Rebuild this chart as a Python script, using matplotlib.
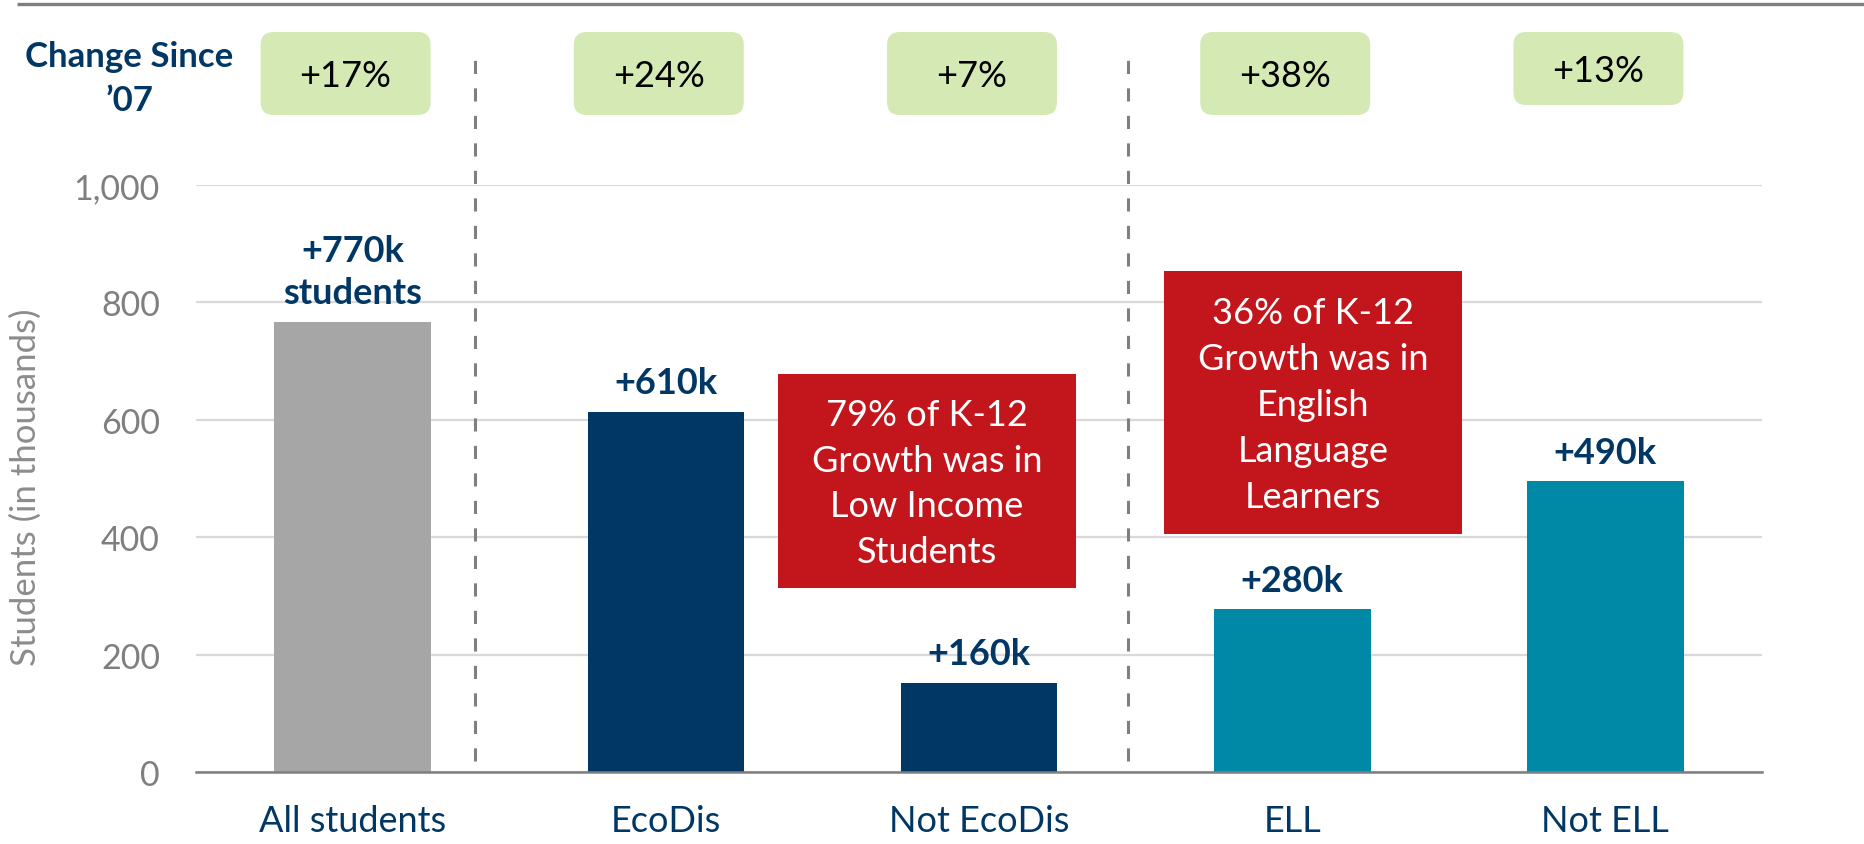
import matplotlib
matplotlib.use("Agg")
import matplotlib.pyplot as plt
from matplotlib.patches import FancyBboxPatch, Rectangle
import matplotlib.transforms as mtrans

plt.rcParams['font.family'] = ['Lato', 'DejaVu Sans']

# chart values
categories = ["All students", "EcoDis", "Not EcoDis", "ELL", "Not ELL"]
growth_k = [767, 614, 152, 277, 495]
bar_labels = ["+770k\nstudents", "+610k", "+160k", "+280k", "+490k"]
pct_change = ["+17%", "+24%", "+7%", "+38%", "+13%"]
y_ticks = [0, 200, 400, 600, 800, 1000]

NAVY = "#003764"
TEAL = "#0089A6"
GREY_BAR = "#A6A6A6"
RED = "#C3161C"
GREEN = "#D5E9B4"
AXIS_GREY = "#7F7F7F"
bar_colors = [GREY_BAR, NAVY, NAVY, TEAL, TEAL]

W, H = 1864, 845
fig = plt.figure(figsize=(W / 100, H / 100), dpi=100)

# main axes placed by pixel box (left, top, right, bottom)
left, top, right, bottom = 196, 186, 1762, 773
ax = fig.add_axes([left / W, 1 - bottom / H, (right - left) / W, (bottom - top) / H])

x = list(range(len(categories)))
ax.bar(x, growth_k, width=0.5, color=bar_colors, zorder=3)
ax.set_xlim(-0.5, len(categories) - 0.5)
ax.set_ylim(0, 1000)
ax.set_yticks(y_ticks)
ax.set_yticklabels([f"{v:,}" for v in y_ticks])
ax.set_xticks(x)
ax.set_xticklabels(categories)
ax.tick_params(axis='y', length=0, pad=26, labelsize=24.5, labelcolor=AXIS_GREY)
ax.tick_params(axis='x', length=0, pad=23, labelsize=26, labelcolor=NAVY)
ax.yaxis.grid(True, color="#D9D9D9", linewidth=1.6, zorder=0)
ax.set_axisbelow(True)
for side in ["top", "right", "left"]:
    ax.spines[side].set_visible(False)
ax.spines["bottom"].set_color(AXIS_GREY)
ax.spines["bottom"].set_linewidth(1.8)
ax.spines["bottom"].set_zorder(4)

# value labels above bars
for xi, val, lab in zip(x, growth_k, bar_labels):
    ax.annotate(lab, (xi, val), xytext=(0, 9), textcoords="offset points",
                ha="center", va="bottom", fontsize=26, fontweight="bold",
                color=NAVY, linespacing=1.35)

# dashed group separators
sep_tr = mtrans.blended_transform_factory(ax.transData, ax.transAxes)
for sx in [0.39, 2.475]:
    ax.plot([sx, sx], [0.019, 1.225], transform=sep_tr, clip_on=False,
            color=AXIS_GREY, linewidth=2.2, dashes=(4.3, 4.7), zorder=5)

# overlay in pixel coordinates for the decorations
ov = fig.add_axes([0, 0, 1, 1])
ov.set_xlim(0, W)
ov.set_ylim(H, 0)
ov.axis("off")
ov.patch.set_alpha(0)

ov.plot([17, W], [5, 5], color=AXIS_GREY, linewidth=2.4, solid_capstyle="butt")

ov.text(129, 79, "Change Since\n\u201907", ha="center", va="center",
        fontsize=25, fontweight="bold", color=NAVY, linespacing=1.45)

ov.text(26, 487, "Students (in thousands)", rotation=90, ha="center",
        va="center", fontsize=25, color="#8C8C8C")

# change-since-'07 boxes
fig.canvas.draw()
for i, pct in enumerate(pct_change):
    cx = ax.transData.transform((i, 0))[0] - 7
    y0, y1 = (33, 116) if i < 4 else (33, 106)
    bw = 170
    ov.add_patch(FancyBboxPatch((cx - bw / 2, y0), bw, y1 - y0,
                                boxstyle="round,pad=0,rounding_size=13",
                                facecolor=GREEN, edgecolor="none"))
    ov.text(cx, (y0 + y1) / 2 + 2, pct, ha="center", va="center",
            fontsize=26, color="black")

# red callouts
callouts = [
    ((778, 375, 1076, 589), "79% of K-12\nGrowth was in\nLow Income\nStudents"),
    ((1164, 272, 1462, 535), "36% of K-12\nGrowth was in\nEnglish\nLanguage\nLearners"),
]
for (x0, y0, x1, y1), txt in callouts:
    ov.add_patch(Rectangle((x0, y0), x1 - x0, y1 - y0, facecolor=RED,
                           edgecolor="none", zorder=6))
    ov.text((x0 + x1) / 2, (y0 + y1) / 2 + 2, txt, ha="center", va="center",
            fontsize=26, color="white", linespacing=1.48, zorder=7)

fig.savefig("out.png", dpi=100)
